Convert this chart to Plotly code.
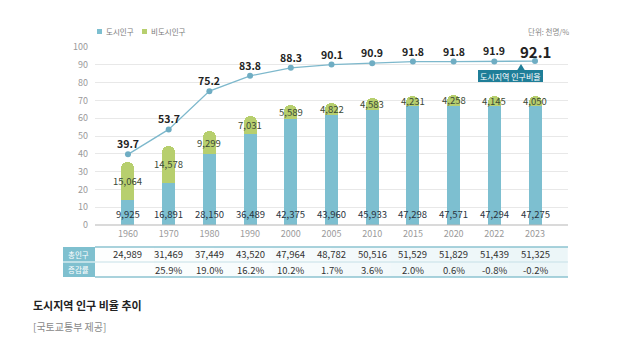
import plotly.graph_objects as go

# ---- data (thousand persons / %) ----
years = ["1960", "1970", "1980", "1990", "2000", "2005", "2010", "2015", "2020", "2022", "2023"]
urban_pop = [9925, 16891, 28150, 36489, 42375, 43960, 45933, 47298, 47571, 47294, 47275]
nonurban_pop = [15064, 14578, 9299, 7031, 5589, 4822, 4583, 4231, 4258, 4145, 4050]
urban_ratio = [39.7, 53.7, 75.2, 83.8, 88.3, 90.1, 90.9, 91.8, 91.8, 91.9, 92.1]
total_pop = [u + n for u, n in zip(urban_pop, nonurban_pop)]
growth_rate = ["", "25.9%", "19.0%", "16.2%", "10.2%", "1.7%", "3.6%", "2.0%", "0.6%", "-0.8%", "-0.2%"]

W, H = 629, 342
FONT = "Noto Sans CJK KR"
BLUE = "#7dbfd0"
GREEN = "#b7cf6e"
LINE = "#7db8cc"
TEAL_DARK = "#1f7e98"


def px(x):
    return x / W


def py(y):
    return (H - y) / H


idx = list(range(len(years)))

fig = go.Figure()

# stacked look: total bar (green) behind, urban bar (blue) in front, both rounded
fig.add_trace(go.Bar(x=idx, y=total_pop, yaxis="y2", width=0.32,
                     marker=dict(color=GREEN, cornerradius="50%", line=dict(width=0)),
                     hoverinfo="skip", showlegend=False))
fig.add_trace(go.Bar(x=idx, y=urban_pop, yaxis="y2", width=0.32,
                     marker=dict(color=BLUE, cornerradius="50%", line=dict(width=0)),
                     hoverinfo="skip", showlegend=False))

# urban ratio line
fig.add_trace(go.Scatter(
    x=idx, y=urban_ratio, mode="lines+markers",
    line=dict(color=LINE, width=1.3),
    marker=dict(color="#6fadc3", size=6),
    showlegend=False, hoverinfo="skip", cliponaxis=False))

annotations = []
shapes = []

# ratio labels above the line points
for i, v in enumerate(urban_ratio):
    last = i == len(urban_ratio) - 1
    annotations.append(dict(x=i, y=v, xref="x", yref="y", text=f"<b>{v}</b>",
                            showarrow=False, yanchor="middle", yshift=10.5 if not last else 10,
                            font=dict(family=FONT, size=15 if last else 10.5, color="#222222")))

# value labels on bars
for i in idx:
    annotations.append(dict(x=i, y=6, xref="x", yref="y", text=f"{urban_pop[i]:,}",
                            showarrow=False, font=dict(family=FONT, size=9.5, color="#2b3440")))
    annotations.append(dict(x=i, y=urban_pop[i] + nonurban_pop[i] * 0.5, xref="x", yref="y2",
                            text=f"{nonurban_pop[i]:,}", showarrow=False,
                            font=dict(family=FONT, size=9.5, color="#3b4a36")))

# zero baseline
shapes.append(dict(type="line", xref="paper", yref="paper", x0=px(95), x1=px(568),
                   y0=py(225), y1=py(225), line=dict(color="#b5b5b5", width=1)))

# legend
for sx, color, label in [(97, BLUE, "도시인구"), (142, GREEN, "비도시인구")]:
    shapes.append(dict(type="rect", xref="paper", yref="paper", x0=px(sx), x1=px(sx + 5),
                       y0=py(34), y1=py(29), fillcolor=color, line=dict(width=0)))
    annotations.append(dict(x=px(sx + 7), y=py(31.5), xref="paper", yref="paper", text=label,
                            xanchor="left", yanchor="middle", showarrow=False,
                            font=dict(family=FONT, size=7.5, color="#7a7a7a")))

annotations.append(dict(x=px(571), y=py(31), xref="paper", yref="paper", text="단위: 천명/%",
                        xanchor="right", yanchor="middle", showarrow=False,
                        font=dict(family=FONT, size=7.5, color="#888888")))

# callout box for the line
shapes.append(dict(type="rect", xref="paper", yref="paper", x0=px(478), x1=px(543),
                   y0=py(82), y1=py(70), fillcolor=TEAL_DARK, line=dict(width=0)))
shapes.append(dict(type="path", xref="paper", yref="paper",
                   path=f"M {px(517)},{py(70.5)} L {px(521)},{py(64)} L {px(525)},{py(70.5)} Z",
                   fillcolor=TEAL_DARK, line=dict(width=0)))
annotations.append(dict(x=px(510.5), y=py(76), xref="paper", yref="paper", text="도시지역 인구비율",
                        xanchor="center", yanchor="middle", showarrow=False,
                        font=dict(family=FONT, size=8, color="white")))

# table below the chart
for k in range(8):
    shapes.append(dict(type="rect", xref="paper", yref="paper",
                       x0=px(95 + k * 59.1), x1=px(95 + (k + 1) * 59.1), y0=py(277), y1=py(247),
                       fillcolor=f"rgba(205,232,238,{0.04 + k * 0.05:.2f})", line=dict(width=0),
                       layer="below"))
shapes.append(dict(type="line", xref="paper", yref="paper", x0=px(95), x1=px(568),
                   y0=py(247), y1=py(247), line=dict(color="#8cc3d1", width=1.5)))
shapes.append(dict(type="line", xref="paper", yref="paper", x0=px(95), x1=px(568),
                   y0=py(262), y1=py(262), line=dict(color="#c6e0e7", width=1)))
shapes.append(dict(type="line", xref="paper", yref="paper", x0=px(95), x1=px(568),
                   y0=py(277), y1=py(277), line=dict(color="#8cc3d1", width=1.5)))
for (y0, y1), label in [((247, 261.5), "총인구"), ((262.5, 277), "증감률")]:
    shapes.append(dict(type="rect", xref="paper", yref="paper", x0=px(63), x1=px(95),
                       y0=py(y1), y1=py(y0), fillcolor="#7fc0cf", line=dict(width=0)))
    annotations.append(dict(x=px(79), y=py((y0 + y1) / 2), xref="paper", yref="paper", text=label,
                            showarrow=False, xanchor="center", yanchor="middle",
                            font=dict(family=FONT, size=7.5, color="white")))
for i in idx:
    annotations.append(dict(x=i, y=py(254), xref="x", yref="paper", text=f"{total_pop[i]:,}",
                            showarrow=False, yanchor="middle",
                            font=dict(family=FONT, size=9.5, color="#333333")))
    if growth_rate[i]:
        annotations.append(dict(x=i, y=py(269.5), xref="x", yref="paper", text=growth_rate[i],
                                showarrow=False, yanchor="middle",
                                font=dict(family=FONT, size=9.5, color="#333333")))

# caption
annotations.append(dict(x=px(31), y=py(305), xref="paper", yref="paper",
                        text="<b>도시지역 인구 비율 추이</b>", xanchor="left", yanchor="middle",
                        showarrow=False, font=dict(family=FONT, size=11, color="#222222")))
annotations.append(dict(x=px(31), y=py(326), xref="paper", yref="paper",
                        text="[국토교통부 제공]", xanchor="left", yanchor="middle",
                        showarrow=False, font=dict(family=FONT, size=10, color="#888888")))

fig.update_layout(
    width=W, height=H,
    margin=dict(l=0, r=0, t=0, b=0, autoexpand=False),
    paper_bgcolor="white", plot_bgcolor="white",
    barmode="overlay", bargap=0,
    font=dict(family=FONT),
    xaxis=dict(domain=[px(95), px(568)], range=[-0.81, 10.81],
               tickmode="array", tickvals=idx, ticktext=years,
               showgrid=False, zeroline=False, showline=False, ticks="",
               tickfont=dict(family=FONT, size=9, color="#9a9a9a"), ticklabelstandoff=2),
    yaxis=dict(domain=[py(225), py(47)], range=[0, 100], tickvals=list(range(0, 101, 10)),
               showgrid=True, gridcolor="#e8e8e8", gridwidth=1, zeroline=False, showline=False,
               ticks="", tickfont=dict(family=FONT, size=9, color="#9a9a9a"),
               ticklabelstandoff=6),
    yaxis2=dict(overlaying="y", range=[0, 71000], visible=False),
    shapes=shapes, annotations=annotations,
)

fig.write_html("out.html")
